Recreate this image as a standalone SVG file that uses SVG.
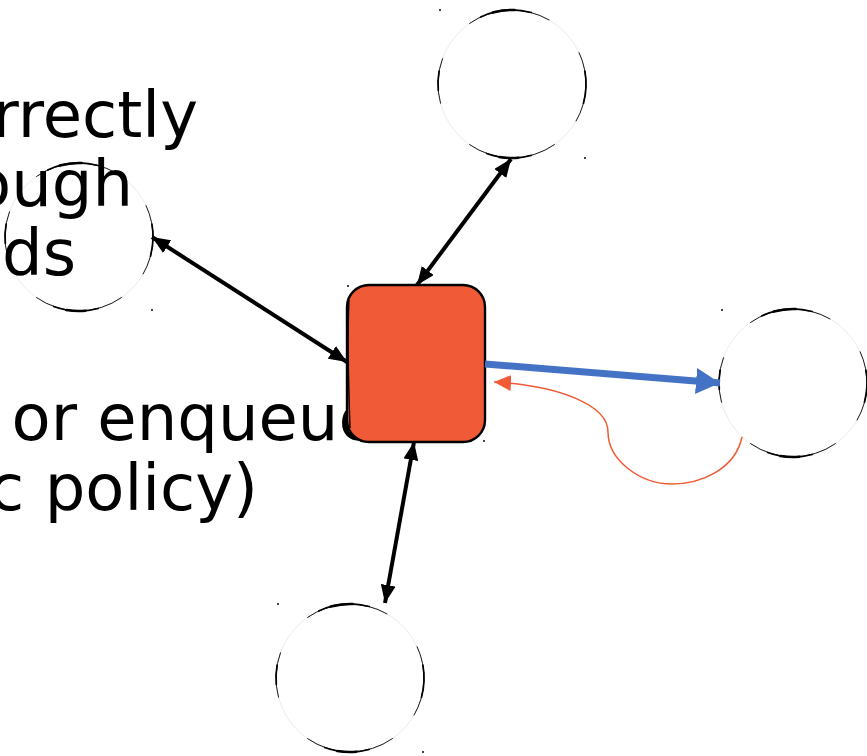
<svg xmlns="http://www.w3.org/2000/svg" xmlns:xlink="http://www.w3.org/1999/xlink" width="867" height="756" viewBox="0 0 867 756">
  <style>
    .ghost { fill: none; stroke: #000; stroke-opacity: 0.12; stroke-width: 0.7; }
    .ink1 { fill: none; stroke: #000; stroke-width: 0.9; stroke-linecap: round; }
    .ink2 { fill: none; stroke: #000; stroke-width: 1.7; stroke-linecap: round; }
    .ink3 { fill: none; stroke: #000; stroke-width: 2.5; stroke-linecap: round; }
    .dot { fill: #444; }
    .label { font-family: "DejaVu Sans", "Liberation Sans", sans-serif; font-size: 64px; fill: #000; }
    .link { fill: none; stroke: #000; stroke-width: 4; }
    .flow { fill: none; stroke: #4472C4; stroke-width: 7; }
    .back { fill: none; stroke: #F05A36; stroke-width: 1.5; }
  </style>
  <defs>
    <!-- sketchy circle of radius 74, centred on the origin -->
    <g id="sketchCircle">
      <circle class="ghost" r="74"/>
      <!-- top stroke -->
      <path class="ink1" d="M-42.4,-60.6 A74,74 0 0 1 37,-64.1"/>
      <path class="ink2" d="M-31.3,-67.1 A74,74 0 0 1 19.2,-71.5"/>
      <path class="ink3" d="M-19.2,-71.5 A74,74 0 0 1 2.6,-74"/>
      <!-- right stroke -->
      <path class="ink1" d="M67.1,-31.3 A74,74 0 0 1 64.1,37"/>
      <path class="ink2" d="M72.9,-12.9 A74,74 0 0 1 71.5,19.2"/>
      <!-- bottom stroke -->
      <path class="ink1" d="M42.4,60.6 A74,74 0 0 1 -42.4,60.6"/>
      <path class="ink2" d="M19.2,71.5 A74,74 0 0 1 -25.3,69.5"/>
      <path class="ink3" d="M6.4,73.7 A74,74 0 0 1 -12.8,72.9"/>
      <!-- left stroke -->
      <path class="ink1" d="M-71.5,19.2 A74,74 0 0 1 -69.5,-25.3"/>
      <path class="ink2" d="M-73.7,6.4 A74,74 0 0 1 -72.9,-12.8"/>
    </g>
    <marker id="headBlack" viewBox="0 0 18 15" refX="18" refY="7.5" markerWidth="18" markerHeight="15" markerUnits="userSpaceOnUse" orient="auto-start-reverse">
      <path d="M0,0 L18,7.5 L0,15 Z" fill="#000"/>
    </marker>
    <marker id="headBlue" viewBox="0 0 24 26" refX="24" refY="13" markerWidth="24" markerHeight="26" markerUnits="userSpaceOnUse" orient="auto">
      <path d="M0,0 L24,13 L0,26 Z" fill="#4472C4"/>
    </marker>
    <marker id="headRed" viewBox="0 0 17 16" refX="17" refY="8" markerWidth="17" markerHeight="16" markerUnits="userSpaceOnUse" orient="auto">
      <path d="M0,0 L17,8 L0,16 Z" fill="#F05A36"/>
    </marker>
  </defs>

  <g id="node-top">
    <use xlink:href="#sketchCircle" href="#sketchCircle" transform="translate(512,84)"/>
    <rect class="dot" x="439" y="9" width="2" height="2"/>
    <rect class="dot" x="584" y="157" width="2" height="2"/>
  </g>
  <g id="node-right">
    <use xlink:href="#sketchCircle" href="#sketchCircle" transform="translate(793,383)"/>
    <rect class="dot" x="721" y="309" width="2" height="2"/>
  </g>
  <g id="node-bottom">
    <use xlink:href="#sketchCircle" href="#sketchCircle" transform="translate(350,678)"/>
    <rect class="dot" x="277" y="603" width="2" height="2"/>
    <rect class="dot" x="422" y="751" width="2" height="2"/>
  </g>
  <g id="node-left">
    <use xlink:href="#sketchCircle" href="#sketchCircle" transform="translate(79,237)"/>
    <rect class="dot" x="151" y="309" width="2" height="2"/>
  </g>

  <g id="labels">
    <text class="label" x="198" y="137" text-anchor="end">rrectly</text>
    <text class="label" x="133" y="206" text-anchor="end">ough</text>
    <text class="label" x="76" y="275" text-anchor="end">ds</text>
    <text class="label" x="11.5" y="440">or enqueue</text>
    <text class="label" x="258" y="510" text-anchor="end">c policy)</text>
  </g>

  <g id="node-switch">
    <rect x="347" y="285" width="138" height="157" rx="22" fill="#F05A36" stroke="#000" stroke-width="2.4"/>
    <!-- second, slightly offset pencil pass -->
    <path d="M349,300 C347,340 349,400 350,428" fill="none" stroke="#000" stroke-width="1.4"/>
    <rect class="dot" x="347" y="285" width="2" height="2"/>
    <rect class="dot" x="483" y="440" width="2" height="2"/>
  </g>

  <g id="connectors">
    <line class="link" x1="511" y1="159" x2="417" y2="285" marker-start="url(#headBlack)" marker-end="url(#headBlack)"/>
    <line class="link" x1="152" y1="237" x2="347" y2="362" marker-start="url(#headBlack)" marker-end="url(#headBlack)"/>
    <line class="link" x1="414" y1="442" x2="385" y2="603" marker-start="url(#headBlack)" marker-end="url(#headBlack)"/>
    <line class="flow" x1="485" y1="364" x2="720" y2="383" marker-end="url(#headBlue)"/>
    <path class="back" d="M742,437 C735,470 700,484 672,484 C640,484 608,460 608,432 C608,405 560,386 494,382" marker-end="url(#headRed)"/>
  </g>
</svg>
